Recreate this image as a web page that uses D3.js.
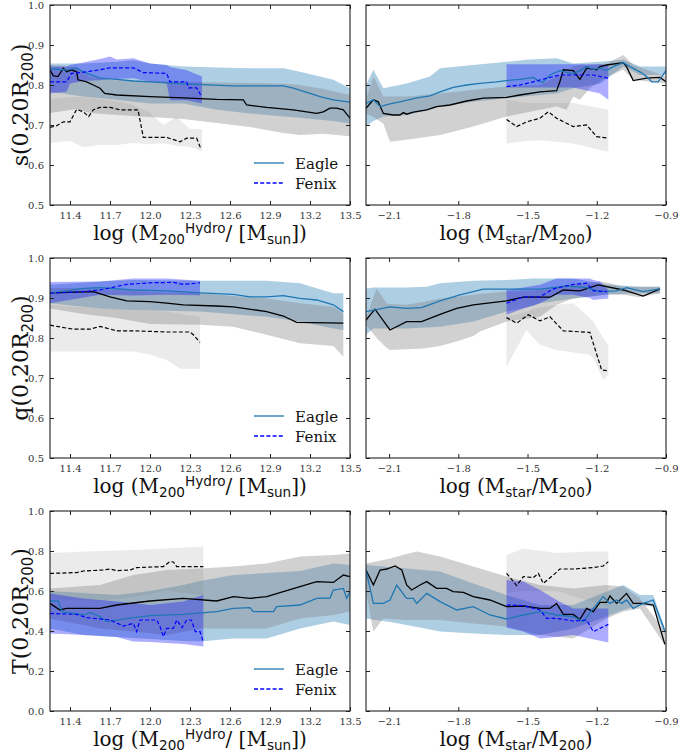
<!DOCTYPE html>
<html><head><meta charset="utf-8">
<script src="https://cdn.jsdelivr.net/npm/d3@7"></script>
<style>body{margin:0;background:#fff}</style>
</head><body><svg id="c" width="678" height="753"></svg>
<script>
// ---------------- tick values ----------------
const xTicksMass = [11.4, 11.7, 12.0, 12.3, 12.6, 12.9, 13.2, 13.5];
const xTicksRatio = [-2.1, -1.8, -1.5, -1.2, -0.9];
const yTicksSQ = [0.5, 0.6, 0.7, 0.8, 0.9, 1.0];
const yTicksT = [0.0, 0.2, 0.4, 0.6, 0.8, 1.0];
const legendLabels = ["Eagle", "Fenix"];

// ---------------- s, vs halo mass ----------------
const sMassEagleHydro = [[11.25,0.84],[11.375,0.838],[11.45,0.842],[11.5,0.833],[11.625,0.817],[11.75,0.814],[11.875,0.81],[12.0,0.808],[12.25,0.803],[12.625,0.798],[13.0,0.798],[13.075,0.792],[13.2,0.779],[13.275,0.771],[13.375,0.763],[13.5,0.757]];
const sMassEagleDM = [[11.25,0.838],[11.275,0.823],[11.31,0.821],[11.35,0.842],[11.375,0.833],[11.41,0.838],[11.45,0.833],[11.46,0.813],[11.525,0.808],[11.575,0.8],[11.625,0.792],[11.66,0.779],[11.75,0.775],[12.0,0.771],[12.25,0.768],[12.5,0.764],[12.7,0.763],[12.725,0.75],[12.875,0.744],[13.075,0.738],[13.25,0.729],[13.3,0.733],[13.35,0.742],[13.4,0.742],[13.45,0.738],[13.5,0.717]];
const sMassEagleHydroBand = [[11.25,0.783,0.854],[11.5,0.771,0.854],[11.75,0.763,0.858],[11.875,0.758,0.862],[12.0,0.754,0.854],[12.25,0.754,0.846],[12.5,0.738,0.844],[12.75,0.729,0.842],[13.0,0.721,0.842],[13.125,0.718,0.833],[13.275,0.713,0.821],[13.375,0.71,0.813],[13.5,0.704,0.792]];
const sMassEagleDMBand = [[11.25,0.73,0.85],[11.45,0.74,0.845],[11.55,0.73,0.82],[11.75,0.725,0.812],[12.0,0.72,0.81],[12.25,0.715,0.808],[12.5,0.705,0.806],[12.75,0.695,0.805],[13.0,0.68,0.803],[13.125,0.675,0.8],[13.3,0.678,0.79],[13.5,0.672,0.775]];
const sMassFenixHydro = [[11.25,0.808],[11.375,0.808],[11.41,0.829],[11.5,0.832],[11.625,0.838],[11.7,0.843],[11.875,0.843],[11.95,0.831],[12.125,0.829],[12.15,0.808],[12.275,0.808],[12.29,0.793],[12.35,0.793],[12.38,0.775]];
const sMassFenixDM = [[11.25,0.694],[11.3,0.698],[11.35,0.708],[11.4,0.708],[11.45,0.739],[11.5,0.733],[11.54,0.721],[11.575,0.738],[11.625,0.744],[11.7,0.744],[11.775,0.738],[11.91,0.738],[11.95,0.669],[12.125,0.669],[12.225,0.658],[12.275,0.667],[12.35,0.667],[12.38,0.642]];
const sMassFenixHydroBand = [[11.25,0.779,0.846],[11.375,0.783,0.846],[11.4,0.804,0.85],[11.5,0.81,0.856],[11.625,0.812,0.865],[11.7,0.815,0.871],[11.75,0.815,0.864],[11.875,0.817,0.867],[12.0,0.808,0.854],[12.125,0.804,0.85],[12.15,0.762,0.845],[12.275,0.762,0.837],[12.39,0.754,0.821]];
const sMassFenixDMBand = [[11.25,0.655,0.765],[11.4,0.66,0.77],[11.5,0.645,0.77],[11.625,0.65,0.765],[11.75,0.65,0.76],[11.875,0.655,0.75],[12.0,0.652,0.73],[12.1,0.655,0.7],[12.2,0.648,0.72],[12.3,0.645,0.69],[12.39,0.635,0.69]];

// ---------------- s, vs stellar-to-halo ratio ----------------
const sRatioEagleHydro = [[-2.2,0.754],[-2.168,0.763],[-2.139,0.746],[-2.096,0.753],[-2.053,0.758],[-1.98,0.768],[-1.923,0.773],[-1.879,0.783],[-1.822,0.794],[-1.764,0.8],[-1.706,0.804],[-1.634,0.808],[-1.591,0.811],[-1.533,0.814],[-1.475,0.819],[-1.446,0.808],[-1.432,0.808],[-1.403,0.825],[-1.36,0.836],[-1.302,0.828],[-1.273,0.836],[-1.244,0.846],[-1.215,0.839],[-1.186,0.842],[-1.157,0.836],[-1.129,0.846],[-1.085,0.856],[-1.056,0.846],[-1.013,0.833],[-0.984,0.821],[-0.962,0.808],[-0.934,0.808],[-0.9,0.836]];
const sRatioEagleDM = [[-2.2,0.742],[-2.168,0.763],[-2.147,0.758],[-2.125,0.729],[-2.082,0.725],[-2.053,0.725],[-2.038,0.731],[-2.024,0.727],[-1.995,0.732],[-1.937,0.738],[-1.894,0.746],[-1.836,0.75],[-1.764,0.76],[-1.692,0.767],[-1.591,0.769],[-1.533,0.775],[-1.446,0.783],[-1.374,0.786],[-1.36,0.808],[-1.345,0.838],[-1.302,0.836],[-1.273,0.814],[-1.244,0.842],[-1.201,0.838],[-1.186,0.846],[-1.157,0.85],[-1.085,0.856],[-1.071,0.846],[-1.042,0.811],[-0.984,0.817],[-0.926,0.819],[-0.9,0.808]];
const sRatioEagleHydroBand = [[-2.2,0.696,0.8],[-2.168,0.71,0.838],[-2.125,0.721,0.792],[-2.024,0.725,0.804],[-1.923,0.738,0.821],[-1.879,0.746,0.842],[-1.735,0.758,0.85],[-1.591,0.767,0.858],[-1.504,0.772,0.863],[-1.374,0.779,0.867],[-1.302,0.792,0.854],[-1.186,0.803,0.858],[-1.085,0.846,0.863],[-1.013,0.825,0.846],[-0.9,0.825,0.846]];
const sRatioEagleDMBand = [[-2.2,0.729,0.763],[-2.168,0.72,0.821],[-2.125,0.704,0.771],[-2.096,0.658,0.771],[-2.024,0.663,0.771],[-1.879,0.675,0.779],[-1.735,0.696,0.788],[-1.591,0.721,0.796],[-1.446,0.738,0.8],[-1.374,0.746,0.821],[-1.331,0.738,0.83],[-1.302,0.771,0.846],[-1.273,0.763,0.85],[-1.23,0.792,0.85],[-1.157,0.82,0.854],[-1.085,0.838,0.875],[-1.042,0.813,0.85],[-0.9,0.804,0.821]];
const sRatioFenixHydro = [[-1.591,0.796],[-1.533,0.8],[-1.475,0.808],[-1.417,0.817],[-1.36,0.825],[-1.302,0.825],[-1.215,0.825],[-1.15,0.817]];
const sRatioFenixDM = [[-1.591,0.714],[-1.547,0.696],[-1.504,0.708],[-1.446,0.717],[-1.41,0.733],[-1.374,0.717],[-1.302,0.696],[-1.244,0.7],[-1.201,0.671],[-1.15,0.667]];
const sRatioFenixHydroBand = [[-1.591,0.794,0.852],[-1.302,0.794,0.852],[-1.186,0.779,0.852],[-1.15,0.763,0.85]];
const sRatioFenixDMBand = [[-1.591,0.654,0.763],[-1.504,0.66,0.755],[-1.446,0.662,0.755],[-1.302,0.654,0.755],[-1.15,0.633,0.738]];

// ---------------- q, vs halo mass ----------------
const qMassEagleHydro = [[11.25,0.912],[11.5,0.924],[11.625,0.926],[11.875,0.92],[12.125,0.918],[12.375,0.913],[12.625,0.909],[12.75,0.903],[12.875,0.903],[13.0,0.906],[13.125,0.899],[13.25,0.895],[13.375,0.883],[13.45,0.866]];
const qMassEagleDM = [[11.25,0.913],[11.575,0.916],[11.7,0.903],[11.825,0.893],[12.0,0.891],[12.125,0.887],[12.25,0.883],[12.5,0.88],[12.625,0.878],[12.875,0.866],[13.0,0.855],[13.1,0.839],[13.45,0.837]];
const qMassEagleHydroBand = [[11.25,0.887,0.933],[11.625,0.874,0.941],[11.875,0.87,0.945],[12.375,0.866,0.943],[12.875,0.853,0.943],[13.125,0.841,0.937],[13.375,0.824,0.912],[13.45,0.82,0.912]];
const qMassEagleDMBand = [[11.25,0.874,0.925],[11.5,0.86,0.925],[11.75,0.85,0.92],[12.0,0.835,0.915],[12.375,0.833,0.912],[12.625,0.828,0.905],[12.875,0.808,0.899],[13.125,0.787,0.887],[13.375,0.78,0.878],[13.45,0.753,0.862]];
const qMassFenixHydro = [[11.25,0.912],[11.5,0.916],[11.625,0.92],[11.825,0.934],[12.0,0.938],[12.175,0.939],[12.25,0.934],[12.375,0.938]];
const qMassFenixDM = [[11.25,0.832],[11.425,0.822],[11.55,0.822],[11.625,0.829],[11.75,0.818],[11.875,0.818],[12.125,0.815],[12.3,0.815],[12.325,0.808],[12.375,0.789]];
const qMassFenixHydroBand = [[11.25,0.887,0.94],[11.625,0.908,0.941],[11.875,0.906,0.949],[12.125,0.908,0.949],[12.375,0.907,0.943]];
const qMassFenixDMBand = [[11.25,0.766,0.883],[11.625,0.766,0.874],[11.875,0.766,0.87],[12.0,0.758,0.868],[12.125,0.745,0.866],[12.225,0.723,0.86],[12.375,0.723,0.853]];

// ---------------- q, vs stellar-to-halo ratio ----------------
const qRatioEagleHydro = [[-2.2,0.866],[-2.096,0.878],[-2.024,0.874],[-1.959,0.876],[-1.879,0.893],[-1.793,0.908],[-1.692,0.922],[-1.591,0.922],[-1.446,0.922],[-1.331,0.93],[-1.244,0.926],[-1.186,0.916],[-1.114,0.918],[-1.071,0.926],[-0.999,0.916],[-0.926,0.923]];
const qRatioEagleDM = [[-2.2,0.845],[-2.161,0.872],[-2.096,0.82],[-2.024,0.841],[-1.959,0.841],[-1.879,0.859],[-1.807,0.874],[-1.735,0.883],[-1.663,0.888],[-1.591,0.893],[-1.518,0.902],[-1.403,0.902],[-1.345,0.92],[-1.273,0.918],[-1.194,0.933],[-1.085,0.92],[-0.999,0.905],[-0.926,0.923]];
const qRatioEagleHydroBand = [[-2.2,0.808,0.924],[-2.168,0.824,0.926],[-2.024,0.824,0.926],[-1.937,0.826,0.928],[-1.879,0.828,0.937],[-1.735,0.841,0.943],[-1.591,0.866,0.945],[-1.475,0.88,0.949],[-1.446,0.887,0.949],[-1.302,0.899,0.949],[-1.157,0.909,0.934],[-1.013,0.912,0.928],[-0.926,0.912,0.928]];
const qRatioEagleDMBand = [[-2.2,0.833,0.85],[-2.154,0.8,0.924],[-2.11,0.775,0.887],[-2.096,0.77,0.885],[-2.024,0.772,0.883],[-1.952,0.774,0.89],[-1.879,0.78,0.899],[-1.807,0.791,0.903],[-1.735,0.805,0.908],[-1.706,0.816,0.91],[-1.591,0.841,0.916],[-1.446,0.853,0.92],[-1.374,0.883,0.925],[-1.302,0.899,0.933],[-1.186,0.907,0.941],[-1.157,0.909,0.939],[-1.085,0.908,0.928],[-1.013,0.902,0.928],[-0.926,0.912,0.928]];
const qRatioFenixHydro = [[-1.591,0.887],[-1.518,0.903],[-1.446,0.903],[-1.388,0.923],[-1.302,0.934],[-1.244,0.937],[-1.215,0.918],[-1.157,0.916]];
const qRatioFenixDM = [[-1.591,0.851],[-1.547,0.837],[-1.497,0.858],[-1.446,0.843],[-1.403,0.853],[-1.345,0.818],[-1.23,0.814],[-1.179,0.72],[-1.15,0.718]];
const qRatioFenixHydroBand = [[-1.591,0.858,0.92],[-1.518,0.874,0.926],[-1.446,0.887,0.933],[-1.374,0.908,0.949],[-1.302,0.908,0.949],[-1.23,0.9,0.949],[-1.215,0.895,0.945],[-1.186,0.897,0.941],[-1.15,0.899,0.92]];
const qRatioFenixDMBand = [[-1.591,0.728,0.853],[-1.504,0.82,0.865],[-1.475,0.8,0.874],[-1.446,0.783,0.876],[-1.374,0.77,0.883],[-1.331,0.766,0.885],[-1.302,0.764,0.887],[-1.23,0.758,0.85],[-1.215,0.75,0.841],[-1.172,0.695,0.8],[-1.15,0.708,0.783]];

// ---------------- T, vs halo mass ----------------
const tMassEagleHydro = [[11.25,0.55],[11.31,0.55],[11.34,0.497],[11.5,0.48],[11.55,0.493],[11.625,0.472],[11.675,0.447],[11.875,0.467],[12.0,0.477],[12.25,0.483],[12.5,0.497],[12.625,0.513],[12.75,0.517],[12.775,0.497],[12.925,0.497],[12.95,0.522],[13.125,0.53],[13.25,0.563],[13.35,0.565],[13.375,0.605],[13.45,0.613],[13.475,0.563],[13.5,0.597]];
const tMassEagleDM = [[11.25,0.538],[11.325,0.505],[11.375,0.513],[11.625,0.513],[11.75,0.53],[12.0,0.55],[12.25,0.563],[12.5,0.55],[12.625,0.572],[12.75,0.563],[12.875,0.572],[13.0,0.597],[13.125,0.622],[13.25,0.647],[13.375,0.643],[13.45,0.68],[13.5,0.672]];
const tMassEagleHydroBand = [[11.25,0.413,0.6],[11.5,0.38,0.59],[11.75,0.37,0.58],[12.0,0.36,0.6],[12.25,0.35,0.63],[12.375,0.347,0.65],[12.625,0.363,0.68],[12.875,0.363,0.69],[13.125,0.413,0.7],[13.375,0.447,0.738],[13.5,0.43,0.73]];
const tMassEagleDMBand = [[11.25,0.463,0.613],[11.625,0.413,0.63],[11.875,0.397,0.68],[12.125,0.38,0.705],[12.375,0.413,0.713],[12.625,0.413,0.722],[12.875,0.413,0.738],[13.125,0.463,0.772],[13.375,0.48,0.78],[13.5,0.497,0.788]];
const tMassFenixHydro = [[11.25,0.488],[11.45,0.483],[11.525,0.467],[11.7,0.455],[11.8,0.425],[11.875,0.438],[11.9,0.397],[11.925,0.455],[12.05,0.455],[12.075,0.422],[12.1,0.372],[12.125,0.413],[12.175,0.413],[12.2,0.455],[12.24,0.417],[12.275,0.455],[12.31,0.455],[12.34,0.397],[12.375,0.397],[12.4,0.347]];
const tMassFenixDM = [[11.25,0.688],[11.45,0.692],[11.5,0.7],[11.65,0.705],[11.7,0.71],[11.75,0.702],[11.85,0.705],[11.9,0.717],[12.1,0.722],[12.15,0.747],[12.175,0.745],[12.2,0.722],[12.4,0.722]];
const tMassFenixHydroBand = [[11.25,0.388,0.588],[11.5,0.38,0.563],[11.75,0.37,0.547],[11.875,0.347,0.54],[12.0,0.345,0.53],[12.25,0.335,0.547],[12.4,0.322,0.58]];
const tMassFenixDMBand = [[11.25,0.56,0.79],[11.625,0.55,0.8],[11.875,0.57,0.805],[12.125,0.6,0.813],[12.4,0.58,0.822]];

// ---------------- T, vs stellar-to-halo ratio ----------------
const tRatioEagleHydro = [[-2.2,0.705],[-2.168,0.538],[-2.125,0.538],[-2.096,0.555],[-2.067,0.63],[-2.024,0.563],[-1.995,0.563],[-1.98,0.538],[-1.937,0.588],[-1.879,0.547],[-1.807,0.505],[-1.735,0.522],[-1.663,0.48],[-1.591,0.46],[-1.518,0.48],[-1.446,0.497],[-1.374,0.48],[-1.302,0.472],[-1.259,0.447],[-1.215,0.513],[-1.172,0.572],[-1.143,0.538],[-1.114,0.555],[-1.092,0.538],[-1.071,0.555],[-1.042,0.513],[-0.999,0.538],[-0.955,0.555],[-0.905,0.4]];
const tRatioEagleDM = [[-2.2,0.705],[-2.168,0.63],[-2.139,0.705],[-2.11,0.71],[-2.074,0.725],[-2.045,0.705],[-2.024,0.63],[-2.002,0.605],[-1.966,0.63],[-1.937,0.647],[-1.894,0.613],[-1.851,0.613],[-1.822,0.597],[-1.778,0.593],[-1.735,0.572],[-1.663,0.555],[-1.591,0.522],[-1.518,0.525],[-1.446,0.513],[-1.403,0.513],[-1.374,0.538],[-1.345,0.483],[-1.302,0.483],[-1.273,0.458],[-1.244,0.513],[-1.215,0.497],[-1.186,0.543],[-1.157,0.543],[-1.143,0.575],[-1.114,0.538],[-1.085,0.572],[-1.071,0.588],[-1.042,0.538],[-0.999,0.538],[-0.955,0.53],[-0.905,0.333]];
const tRatioEagleHydroBand = [[-2.2,0.463,0.73],[-2.096,0.445,0.72],[-2.024,0.43,0.713],[-1.879,0.397,0.697],[-1.735,0.388,0.638],[-1.591,0.38,0.58],[-1.446,0.38,0.53],[-1.302,0.413,0.53],[-1.157,0.472,0.597],[-1.085,0.505,0.63],[-1.013,0.53,0.58],[-0.955,0.522,0.58],[-0.905,0.38,0.413]];
const tRatioEagleDMBand = [[-2.2,0.597,0.738],[-2.168,0.397,0.745],[-2.125,0.463,0.755],[-2.096,0.46,0.763],[-2.024,0.455,0.785],[-1.98,0.455,0.797],[-1.879,0.455,0.772],[-1.735,0.438,0.722],[-1.591,0.422,0.672],[-1.446,0.38,0.63],[-1.302,0.363,0.613],[-1.157,0.463,0.63],[-1.085,0.497,0.622],[-1.013,0.513,0.563],[-0.905,0.33,0.397]];
const tRatioFenixHydro = [[-1.591,0.53],[-1.518,0.527],[-1.446,0.505],[-1.417,0.463],[-1.374,0.463],[-1.302,0.45],[-1.244,0.455],[-1.215,0.397],[-1.186,0.413],[-1.15,0.433]];
const tRatioFenixDM = [[-1.591,0.688],[-1.547,0.627],[-1.518,0.672],[-1.475,0.667],[-1.453,0.688],[-1.432,0.638],[-1.388,0.68],[-1.36,0.71],[-1.302,0.71],[-1.215,0.717],[-1.172,0.725],[-1.15,0.747]];
const tRatioFenixHydroBand = [[-1.591,0.417,0.655],[-1.518,0.397,0.647],[-1.446,0.363,0.605],[-1.374,0.37,0.555],[-1.302,0.38,0.513],[-1.15,0.343,0.513]];
const tRatioFenixDMBand = [[-1.591,0.59,0.78],[-1.518,0.6,0.813],[-1.374,0.6,0.79],[-1.23,0.55,0.797],[-1.15,0.52,0.797]];

// ---------------- layout ----------------
const colX = [50, 366], rowY = [5, 258, 511], PW = 300, PH = 200;
const C = {
  eagle: "#1f77b4", fenix: "#0000ff", dm: "#000000",
  eagleBand: "#1f77b4", dmBand: "#808080", fenixBand: "#0000ff"
};
const serif = "'DejaVu Serif', serif";
const sans = "'DejaVu Sans', sans-serif";

const rows = [
  {name: "s", yDomain: [0.5, 1.0], yTicks: yTicksSQ,
   mass: [sMassEagleHydro, sMassEagleDM, sMassEagleHydroBand, sMassEagleDMBand, sMassFenixHydro, sMassFenixDM, sMassFenixHydroBand, sMassFenixDMBand],
   ratio: [sRatioEagleHydro, sRatioEagleDM, sRatioEagleHydroBand, sRatioEagleDMBand, sRatioFenixHydro, sRatioFenixDM, sRatioFenixHydroBand, sRatioFenixDMBand]},
  {name: "q", yDomain: [0.5, 1.0], yTicks: yTicksSQ,
   mass: [qMassEagleHydro, qMassEagleDM, qMassEagleHydroBand, qMassEagleDMBand, qMassFenixHydro, qMassFenixDM, qMassFenixHydroBand, qMassFenixDMBand],
   ratio: [qRatioEagleHydro, qRatioEagleDM, qRatioEagleHydroBand, qRatioEagleDMBand, qRatioFenixHydro, qRatioFenixDM, qRatioFenixHydroBand, qRatioFenixDMBand]},
  {name: "T", yDomain: [0.0, 1.0], yTicks: yTicksT,
   mass: [tMassEagleHydro, tMassEagleDM, tMassEagleHydroBand, tMassEagleDMBand, tMassFenixHydro, tMassFenixDM, tMassFenixHydroBand, tMassFenixDMBand],
   ratio: [tRatioEagleHydro, tRatioEagleDM, tRatioEagleHydroBand, tRatioEagleDMBand, tRatioFenixHydro, tRatioFenixDM, tRatioFenixHydroBand, tRatioFenixDMBand]}
];

const svg = d3.select("#c");

// rich text: parts [text, mode]; mode n / sub / sup. Baseline shifts via dy on the part itself.
function addText(g, parts, size) {
  const off = {n: 0, sub: 0.22 * size, sup: -0.36 * size};
  let cur = 0;
  parts.forEach(([t, mode]) => {
    const target = off[mode];
    const ts = g.append("tspan").text(t).attr("dy", target - cur);
    if (mode !== "n") ts.attr("font-size", size * 0.68).attr("font-family", sans);
    cur = target;
  });
}

const fmt1 = d3.format(".1f");

rows.forEach((row, ri) => {
  [0, 1].forEach(ci => {
    const x0 = colX[ci], y0 = rowY[ri];
    const x = d3.scaleLinear().domain(ci === 0 ? [11.25, 13.5] : [-2.2, -0.9]).range([x0, x0 + PW]);
    const y = d3.scaleLinear().domain(row.yDomain).range([y0 + PH, y0]);
    const [eH, eD, eHB, eDB, fH, fD, fHB, fDB] = ci === 0 ? row.mass : row.ratio;
    const clipId = `clip${ri}${ci}`;
    svg.append("clipPath").attr("id", clipId).append("rect")
      .attr("x", x0).attr("y", y0).attr("width", PW).attr("height", PH);
    const g = svg.append("g").attr("clip-path", `url(#${clipId})`);
    const area = d3.area().x(d => x(d[0])).y0(d => y(d[1])).y1(d => y(d[2]));
    const line = d3.line().x(d => x(d[0])).y(d => y(d[1]));

    g.append("path").attr("d", area(eHB)).attr("fill", C.eagleBand).attr("fill-opacity", 0.36);
    g.append("path").attr("d", area(eDB)).attr("fill", C.dmBand).attr("fill-opacity", 0.36);
    g.append("path").attr("d", area(fDB)).attr("fill", C.dmBand).attr("fill-opacity", 0.16);
    g.append("path").attr("d", area(fHB)).attr("fill", C.fenixBand).attr("fill-opacity", 0.32);

    g.append("path").attr("d", line(eD)).attr("fill", "none").attr("stroke", C.dm).attr("stroke-width", 1.3);
    g.append("path").attr("d", line(eH)).attr("fill", "none").attr("stroke", C.eagle).attr("stroke-width", 1.3);
    g.append("path").attr("d", line(fD)).attr("fill", "none").attr("stroke", C.dm).attr("stroke-width", 1.2).attr("stroke-dasharray", "4,2.2");
    g.append("path").attr("d", line(fH)).attr("fill", "none").attr("stroke", C.fenix).attr("stroke-width", 1.2).attr("stroke-dasharray", "4,2.2");

    // axes with inward ticks on all sides
    const xt = ci === 0 ? xTicksMass : xTicksRatio;
    const xFmt = ci === 0 ? fmt1 : (d => fmt1(d).replace("-", "\u2212"));
    const axB = svg.append("g").attr("transform", `translate(0,${y0 + PH})`)
      .call(d3.axisBottom(x).tickValues(xt).tickFormat(xFmt).tickSize(-4).tickPadding(7));
    const axT = svg.append("g").attr("transform", `translate(0,${y0})`)
      .call(d3.axisTop(x).tickValues(xt).tickFormat(() => "").tickSize(-4));
    const axL = svg.append("g").attr("transform", `translate(${x0},0)`)
      .call(d3.axisLeft(y).tickValues(row.yTicks).tickFormat(ci === 0 ? fmt1 : () => "").tickSize(-4).tickPadding(6));
    const axR = svg.append("g").attr("transform", `translate(${x0 + PW},0)`)
      .call(d3.axisRight(y).tickValues(row.yTicks).tickFormat(() => "").tickSize(-4));
    [axB, axT, axL, axR].forEach(a => {
      a.select(".domain").remove();
      a.selectAll(".tick line").attr("stroke", "#222").attr("stroke-width", 1);
      a.selectAll(".tick text").attr("font-family", serif).attr("font-size", 10).attr("fill", "#333");
    });
    [axT, axR].forEach(a => a.selectAll(".tick text").remove());
    if (ci === 1) axL.selectAll(".tick text").remove();
    svg.append("rect").attr("x", x0).attr("y", y0).attr("width", PW).attr("height", PH)
      .attr("fill", "none").attr("stroke", "#222").attr("stroke-width", 1.1);

    // x label
    const xl = svg.append("text").attr("x", x0 + PW / 2).attr("y", y0 + 235)
      .attr("text-anchor", "middle").attr("font-family", serif).attr("font-size", 20).attr("fill", "#111");
    if (ci === 0) addText(xl, [["log (M", "n"], ["200", "sub"], ["Hydro", "sup"], ["/ [M", "n"], ["sun", "sub"], ["])", "n"]], 20);
    else addText(xl, [["log (M", "n"], ["star", "sub"], ["/M", "n"], ["200", "sub"], [")", "n"]], 20);

    if (ci === 0) {
      // y label
      const yl = svg.append("text").attr("transform", `translate(28,${y0 + PH / 2}) rotate(-90)`)
        .attr("text-anchor", "middle").attr("font-family", serif).attr("font-size", 22).attr("fill", "#111");
      addText(yl, [[row.name + "(0.20R", "n"], ["200", "sub"], [")", "n"]], 22);

      // legend
      const lg = svg.append("g");
      const ly = [y0 + 158, y0 + 178];
      const styles = [{c: C.eagle, dash: null}, {c: C.fenix, dash: "4,2.2"}];
      legendLabels.forEach((lab, i) => {
        lg.append("line").attr("x1", x0 + 204).attr("x2", x0 + 234).attr("y1", ly[i]).attr("y2", ly[i])
          .attr("stroke", styles[i].c).attr("stroke-width", 1.3).attr("stroke-dasharray", styles[i].dash);
        lg.append("text").attr("x", x0 + 245).attr("y", ly[i] + 5.5).text(lab)
          .attr("font-family", serif).attr("font-size", 15).attr("fill", "#111");
      });
    }
  });
});
</script>
</body></html>
